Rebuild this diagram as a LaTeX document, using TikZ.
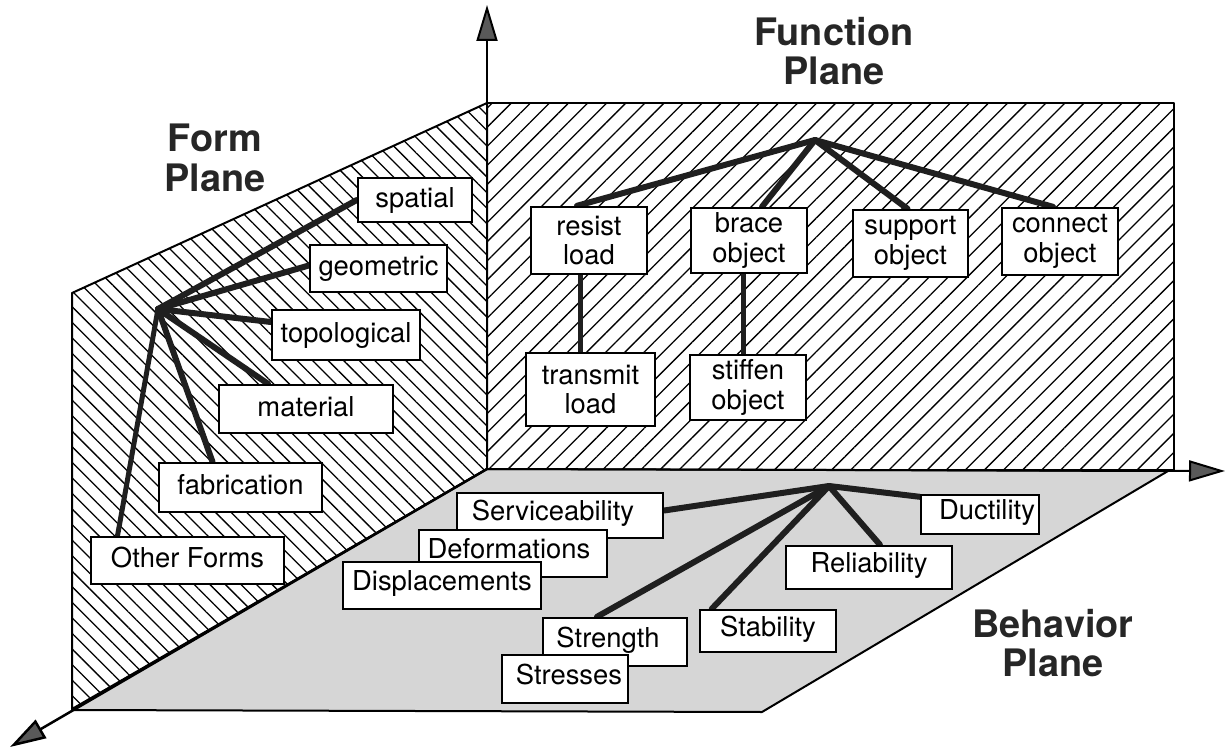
\documentclass[tikz,border=0pt]{standalone}
\usepackage{fontspec}
\setmainfont{TeX Gyre Heros}
\usetikzlibrary{arrows.meta,patterns.meta}
\pgfdeclarelayer{planes}
\pgfdeclarelayer{links}
\pgfsetlayers{planes,links,main}
\begin{document}
\begin{tikzpicture}[x=1bp,y=-1bp,
  plane/.style={draw=black, line width=2bp, line join=round},
  axis/.style={line width=2bp, -{Triangle[length=36bp,width=21bp,fill=black!65]}},
  link/.style={line width=6bp, draw=black!88, line cap=round, line join=round},
  sz/.style 2 args={minimum width=#1, minimum height=#2},
  box/.style={draw, line width=2.4bp, fill=white, inner sep=0pt, font=\fontsize{27.5}{31}\selectfont, text height=20bp, text depth=6bp},
  bbox/.style={box, text depth=10bp},
  fbox/.style={draw, line width=2.4bp, fill=white, inner sep=0pt, align=center, font=\fontsize{27.5}{30}\selectfont},
  title/.style={align=center, font=\fontsize{38}{40}\selectfont\bfseries, text=black!85},
]
\useasboundingbox (0,0) rectangle (1225,748);

% key points
\coordinate (O) at (487,469);
\coordinate (ytip) at (487,5);
\coordinate (xtip) at (1225,471);
\coordinate (ztip) at (10,747);

\begin{pgfonlayer}{planes}
% planes
\draw[plane, pattern={Lines[angle=-45,distance=11bp,line width=1.3bp]}]
  (487,103) -- (72,293) -- (72,709) -- (O) -- cycle;
\draw[plane, pattern={Lines[angle=45,distance=13.5bp,line width=1.3bp]}]
  (487,103) rectangle (1174,470);
\draw[plane, fill=black!16]
  (O) -- (1168,471) -- (762,712) -- (72,710) -- cycle;

% axes
\draw[axis] (O) -- (ytip);
\draw[axis] (O) -- (xtip);
\draw[axis, line width=2.5bp] (O) -- (ztip);
\end{pgfonlayer}

% titles
\node[title] (tform) at (215,158) {Form\\Plane};
\node[title] (tfunc) at (834,51) {Function\\Plane};
\node[title] (tbeh) at (1053,643) {Behavior\\Plane};

% hubs
\coordinate (hubF) at (158,309);
\coordinate (hubU) at (815,140);
\coordinate (hubB) at (829,486);

% form boxes
\node[box, sz={114bp}{44bp}] (spatial) at (415,200) {spatial};
\node[box, sz={137bp}{47bp}] (geometric) at (378.5,268.5) {geometric};
\node[box, sz={148bp}{50bp}] (topological) at (346,335) {topological};
\node[box, sz={174bp}{48bp}] (material) at (306,409) {material};
\node[box, sz={163bp}{49bp}] (fabrication) at (240.5,487.5) {fabrication};
\node[box, sz={193bp}{47bp}] (other) at (187.5,560.5) {Other Forms};

% function boxes
\node[fbox, sz={116bp}{67bp}] (resist) at (589,240.5) {resist\\load};
\node[fbox, sz={116bp}{65bp}] (brace) at (749,240.5) {brace\\object};
\node[fbox, sz={129bp}{73bp}] (transmit) at (590.5,389.5) {transmit\\load};
\node[fbox, sz={116bp}{65bp}] (stiffen) at (748,387.5) {stiffen\\object};
\node[fbox, sz={115bp}{67bp}] (support) at (910.5,243.5) {support\\object};
\node[fbox, sz={116bp}{67bp}] (connect) at (1060,241.5) {connect\\object};

% behavior boxes
\node[bbox, sz={206bp}{45bp}] (service) at (560,515.5) {\hspace*{-14bp}Serviceability};
\node[bbox, sz={188bp}{47bp}] (deform) at (513,553.5) {\hspace*{-8bp}Deformations};
\node[bbox, sz={198bp}{47bp}] (displace) at (442,585.5) {Displacements};
\node[bbox, sz={144bp}{48bp}] (strength) at (615,642) {\hspace*{-14bp}Strength};
\node[bbox, sz={126bp}{48bp}] (stresses) at (565,679) {Stresses\hspace*{-8bp}};
\node[bbox, sz={136bp}{42bp}] (stability) at (768,631) {Stability};
\node[bbox, sz={166bp}{43bp}] (reliability) at (869,567.5) {Reliability};
\node[bbox, sz={118bp}{39bp}] (ductility) at (980,514.5) {Ductility\hspace*{-14bp}};

% connectors (behind boxes)
\begin{pgfonlayer}{links}
\draw[link] (hubF) -- (spatial.west);
\draw[link] (hubF) -- ([yshift=3bp]geometric.west);
\draw[link] (hubF) -- ([yshift=13bp]topological.west);
\draw[link] (hubF) -- ([xshift=-38bp]material.north);
\draw[link] (hubF) -- ([xshift=-28bp]fabrication.north);
\draw[link, line width=5bp] (hubF) -- ([xshift=-70bp]other.north);

\draw[link] (hubU) -- ([xshift=-12bp]resist.north);
\draw[link] (hubU) -- ([xshift=13bp]brace.north);
\draw[link] (hubU) -- ([xshift=-3bp]support.north);
\draw[link] (hubU) -- ([xshift=-7bp]connect.north);
\draw[link, line width=5bp] ([xshift=-9bp]resist.south) -- ([xshift=-9bp]resist.south |- transmit.north);
\draw[link, line width=5bp] ([xshift=-6bp]brace.south) -- ([xshift=-6bp]brace.south |- stiffen.north);

\draw[link] (hubB) -- ([yshift=5bp]service.east);
\draw[link] (hubB) -- ([xshift=-18bp]strength.north);
\draw[link] (hubB) -- ([xshift=13bp]stability.north west);
\draw[link] (hubB) -- ([xshift=11bp]reliability.north);
\draw[link] (hubB) -- ([yshift=-3bp]ductility.north west);
\end{pgfonlayer}
\end{tikzpicture}
\end{document}
